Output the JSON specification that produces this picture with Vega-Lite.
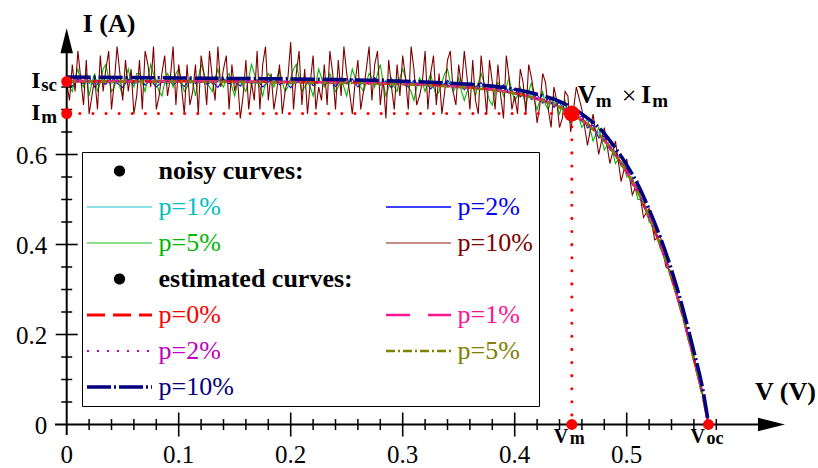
{
"$schema": "https://vega.github.io/schema/vega-lite/v6.json",
"width": 818, "height": 468, "autosize": {"type": "none"}, "padding": 0,
"config": {"view": {"stroke": null}, "font": "Liberation Serif, Times New Roman, DejaVu Serif, serif"},
"datasets": {
"noisy": [
{"v":0,"n1":0.766,"n2":0.760},{"v":0.005,"n1":0.759,"n2":0.752},{"v":0.01,"n1":0.769,"n2":0.768},{"v":0.015,"n1":0.761,"n2":0.757},
{"v":0.02,"n1":0.757,"n2":0.771},{"v":0.025,"n1":0.768,"n2":0.750},{"v":0.03,"n1":0.762,"n2":0.763},{"v":0.035,"n1":0.770,"n2":0.756},
{"v":0.04,"n1":0.758,"n2":0.770},{"v":0.045,"n1":0.765,"n2":0.758},{"v":0.05,"n1":0.760,"n2":0.749},{"v":0.055,"n1":0.768,"n2":0.766},
{"v":0.06,"n1":0.756,"n2":0.759},{"v":0.065,"n1":0.763,"n2":0.772},{"v":0.07,"n1":0.769,"n2":0.754},{"v":0.075,"n1":0.759,"n2":0.765},
{"v":0.08,"n1":0.766,"n2":0.750},{"v":0.085,"n1":0.761,"n2":0.761},{"v":0.09,"n1":0.757,"n2":0.769},{"v":0.095,"n1":0.767,"n2":0.755},
{"v":0.1,"n1":0.762,"n2":0.764},{"v":0.105,"n1":0.770,"n2":0.751},{"v":0.11,"n1":0.758,"n2":0.767},{"v":0.115,"n1":0.764,"n2":0.758},
{"v":0.12,"n1":0.760,"n2":0.773},{"v":0.125,"n1":0.768,"n2":0.756},{"v":0.13,"n1":0.757,"n2":0.762},{"v":0.135,"n1":0.765,"n2":0.749},
{"v":0.14,"n1":0.761,"n2":0.768},{"v":0.145,"n1":0.769,"n2":0.757},{"v":0.15,"n1":0.758,"n2":0.764},{"v":0.155,"n1":0.763,"n2":0.752},
{"v":0.16,"n1":0.767,"n2":0.770},{"v":0.165,"n1":0.756,"n2":0.759},{"v":0.17,"n1":0.764,"n2":0.766},{"v":0.175,"n1":0.760,"n2":0.750},
{"v":0.18,"n1":0.768,"n2":0.761},{"v":0.185,"n1":0.759,"n2":0.771},{"v":0.19,"n1":0.766,"n2":0.755},{"v":0.195,"n1":0.761,"n2":0.763},
{"v":0.2,"n1":0.757,"n2":0.748},{"v":0.205,"n1":0.767,"n2":0.767},{"v":0.21,"n1":0.762,"n2":0.758},{"v":0.215,"n1":0.769,"n2":0.770},
{"v":0.22,"n1":0.758,"n2":0.753},{"v":0.225,"n1":0.764,"n2":0.762},{"v":0.23,"n1":0.760,"n2":0.756},{"v":0.235,"n1":0.766,"n2":0.769},
{"v":0.24,"n1":0.756,"n2":0.751},{"v":0.245,"n1":0.763,"n2":0.764},{"v":0.25,"n1":0.768,"n2":0.757},{"v":0.255,"n1":0.759,"n2":0.768},
{"v":0.26,"n1":0.765,"n2":0.750},{"v":0.265,"n1":0.757,"n2":0.763},{"v":0.27,"n1":0.763,"n2":0.756},{"v":0.275,"n1":0.767,"n2":0.771},
{"v":0.28,"n1":0.758,"n2":0.754},{"v":0.285,"n1":0.764,"n2":0.762},{"v":0.29,"n1":0.756,"n2":0.748},{"v":0.295,"n1":0.762,"n2":0.766},
{"v":0.3,"n1":0.755,"n2":0.757},{"v":0.305,"n1":0.762,"n2":0.750},{"v":0.31,"n1":0.758,"n2":0.764},{"v":0.315,"n1":0.753,"n2":0.753},
{"v":0.32,"n1":0.760,"n2":0.761},{"v":0.325,"n1":0.755,"n2":0.746},{"v":0.33,"n1":0.761,"n2":0.759},{"v":0.335,"n1":0.752,"n2":0.752},
{"v":0.34,"n1":0.758,"n2":0.765},{"v":0.345,"n1":0.754,"n2":0.748},{"v":0.35,"n1":0.748,"n2":0.756},{"v":0.355,"n1":0.755,"n2":0.744},
{"v":0.36,"n1":0.750,"n2":0.757},{"v":0.365,"n1":0.746,"n2":0.750},{"v":0.37,"n1":0.752,"n2":0.760},{"v":0.375,"n1":0.744,"n2":0.742},
{"v":0.38,"n1":0.750,"n2":0.752},{"v":0.385,"n1":0.745,"n2":0.745},{"v":0.39,"n1":0.740,"n2":0.755},{"v":0.395,"n1":0.746,"n2":0.738},
{"v":0.4,"n1":0.735,"n2":0.746},{"v":0.405,"n1":0.739,"n2":0.728},{"v":0.41,"n1":0.729,"n2":0.740},{"v":0.415,"n1":0.733,"n2":0.722},
{"v":0.42,"n1":0.721,"n2":0.733},{"v":0.425,"n1":0.725,"n2":0.714},{"v":0.43,"n1":0.713,"n2":0.726},{"v":0.435,"n1":0.716,"n2":0.705},
{"v":0.44,"n1":0.703,"n2":0.716},{"v":0.445,"n1":0.705,"n2":0.694},{"v":0.45,"n1":0.692,"n2":0.703},{"v":0.455,"n1":0.689,"n2":0.678},
{"v":0.46,"n1":0.672,"n2":0.686},{"v":0.465,"n1":0.670,"n2":0.659},{"v":0.47,"n1":0.653,"n2":0.665},{"v":0.475,"n1":0.648,"n2":0.637},
{"v":0.48,"n1":0.629,"n2":0.641},{"v":0.485,"n1":0.620,"n2":0.610},{"v":0.49,"n1":0.596,"n2":0.607},{"v":0.495,"n1":0.584,"n2":0.575},
{"v":0.5,"n1":0.558,"n2":0.569},{"v":0.505,"n1":0.543,"n2":0.533},{"v":0.51,"n1":0.514,"n2":0.523},{"v":0.515,"n1":0.493,"n2":0.484},
{"v":0.52,"n1":0.458,"n2":0.467},{"v":0.525,"n1":0.433,"n2":0.425},{"v":0.53,"n1":0.397,"n2":0.405},{"v":0.535,"n1":0.366,"n2":0.359},
{"v":0.54,"n1":0.325,"n2":0.331},{"v":0.545,"n1":0.288,"n2":0.282},{"v":0.55,"n1":0.241,"n2":0.246},{"v":0.555,"n1":0.196,"n2":0.192},
{"v":0.56,"n1":0.145,"n2":0.148},{"v":0.565,"n1":0.099,"n2":0.097},{"v":0.57,"n1":0.040,"n2":0.040},{"v":0.573,"n1":0,"n2":0}
],
"dense": [
{"v":0,"n5":0.77,"n10":0.76},{"v":0.0025,"n5":0.75,"n10":0.72},
{"v":0.005,"n5":0.74,"n10":0.80},{"v":0.0075,"n5":0.77,"n10":0.74},
{"v":0.01,"n5":0.79,"n10":0.83},{"v":0.0125,"n5":0.76,"n10":0.77},
{"v":0.015,"n5":0.75,"n10":0.71},{"v":0.0175,"n5":0.78,"n10":0.81},
{"v":0.02,"n5":0.73,"n10":0.69},{"v":0.0225,"n5":0.76,"n10":0.73},
{"v":0.025,"n5":0.78,"n10":0.77},{"v":0.0275,"n5":0.74,"n10":0.70},
{"v":0.03,"n5":0.76,"n10":0.82},{"v":0.0325,"n5":0.79,"n10":0.74},
{"v":0.035,"n5":0.80,"n10":0.79},{"v":0.0375,"n5":0.77,"n10":0.83},
{"v":0.04,"n5":0.74,"n10":0.70},{"v":0.0425,"n5":0.75,"n10":0.76},
{"v":0.045,"n5":0.77,"n10":0.84},{"v":0.0475,"n5":0.75,"n10":0.78},
{"v":0.05,"n5":0.73,"n10":0.72},{"v":0.0525,"n5":0.77,"n10":0.81},
{"v":0.055,"n5":0.79,"n10":0.74},{"v":0.0575,"n5":0.76,"n10":0.79},
{"v":0.06,"n5":0.75,"n10":0.69},{"v":0.0625,"n5":0.78,"n10":0.73},
{"v":0.065,"n5":0.78,"n10":0.81},{"v":0.0675,"n5":0.76,"n10":0.70},
{"v":0.07,"n5":0.74,"n10":0.83},{"v":0.0725,"n5":0.77,"n10":0.80},
{"v":0.075,"n5":0.80,"n10":0.75},{"v":0.0775,"n5":0.78,"n10":0.84},
{"v":0.08,"n5":0.76,"n10":0.70},{"v":0.0825,"n5":0.74,"n10":0.73},
{"v":0.085,"n5":0.73,"n10":0.78},{"v":0.0875,"n5":0.76,"n10":0.82},
{"v":0.09,"n5":0.78,"n10":0.73},{"v":0.0925,"n5":0.77,"n10":0.77},
{"v":0.095,"n5":0.75,"n10":0.84},{"v":0.0975,"n5":0.78,"n10":0.71},
{"v":0.1,"n5":0.79,"n10":0.80},{"v":0.1025,"n5":0.76,"n10":0.75},
{"v":0.105,"n5":0.74,"n10":0.69},{"v":0.1075,"n5":0.75,"n10":0.80},
{"v":0.11,"n5":0.77,"n10":0.71},{"v":0.1125,"n5":0.76,"n10":0.74},
{"v":0.115,"n5":0.73,"n10":0.80},{"v":0.1175,"n5":0.77,"n10":0.69},
{"v":0.12,"n5":0.80,"n10":0.82},{"v":0.1225,"n5":0.78,"n10":0.78},
{"v":0.125,"n5":0.76,"n10":0.71},{"v":0.1275,"n5":0.75,"n10":0.83},
{"v":0.13,"n5":0.74,"n10":0.77},{"v":0.1325,"n5":0.77,"n10":0.72},
{"v":0.135,"n5":0.79,"n10":0.84},{"v":0.1375,"n5":0.76,"n10":0.75},
{"v":0.14,"n5":0.75,"n10":0.79},{"v":0.1425,"n5":0.77,"n10":0.82},
{"v":0.145,"n5":0.78,"n10":0.70},{"v":0.1475,"n5":0.75,"n10":0.80},
{"v":0.15,"n5":0.73,"n10":0.74},{"v":0.1525,"n5":0.76,"n10":0.77},
{"v":0.155,"n5":0.77,"n10":0.68},{"v":0.1575,"n5":0.75,"n10":0.73},
{"v":0.16,"n5":0.74,"n10":0.81},{"v":0.1625,"n5":0.77,"n10":0.70},
{"v":0.165,"n5":0.80,"n10":0.76},{"v":0.1675,"n5":0.78,"n10":0.72},
{"v":0.17,"n5":0.76,"n10":0.83},{"v":0.1725,"n5":0.75,"n10":0.70},
{"v":0.175,"n5":0.73,"n10":0.80},{"v":0.1775,"n5":0.76,"n10":0.84},
{"v":0.18,"n5":0.78,"n10":0.72},{"v":0.1825,"n5":0.77,"n10":0.78},
{"v":0.185,"n5":0.75,"n10":0.70},{"v":0.1875,"n5":0.77,"n10":0.74},
{"v":0.19,"n5":0.79,"n10":0.80},{"v":0.1925,"n5":0.76,"n10":0.69},
{"v":0.195,"n5":0.74,"n10":0.74},{"v":0.1975,"n5":0.75,"n10":0.77},
{"v":0.2,"n5":0.77,"n10":0.85},{"v":0.2025,"n5":0.79,"n10":0.70},
{"v":0.205,"n5":0.80,"n10":0.78},{"v":0.2075,"n5":0.77,"n10":0.83},
{"v":0.21,"n5":0.74,"n10":0.71},{"v":0.2125,"n5":0.75,"n10":0.79},
{"v":0.215,"n5":0.76,"n10":0.69},{"v":0.2175,"n5":0.75,"n10":0.76},
{"v":0.22,"n5":0.73,"n10":0.82},{"v":0.2225,"n5":0.76,"n10":0.70},
{"v":0.225,"n5":0.79,"n10":0.75},{"v":0.2275,"n5":0.77,"n10":0.72},
{"v":0.23,"n5":0.75,"n10":0.80},{"v":0.2325,"n5":0.76,"n10":0.71},
{"v":0.235,"n5":0.78,"n10":0.83},{"v":0.2375,"n5":0.76,"n10":0.78},
{"v":0.24,"n5":0.74,"n10":0.70},{"v":0.2425,"n5":0.75,"n10":0.81},
{"v":0.245,"n5":0.77,"n10":0.73},{"v":0.2475,"n5":0.75,"n10":0.84},
{"v":0.25,"n5":0.73,"n10":0.78},{"v":0.2525,"n5":0.76,"n10":0.74},
{"v":0.255,"n5":0.79,"n10":0.69},{"v":0.2575,"n5":0.77,"n10":0.76},
{"v":0.26,"n5":0.76,"n10":0.81},{"v":0.2625,"n5":0.75,"n10":0.70},
{"v":0.265,"n5":0.74,"n10":0.74},{"v":0.2675,"n5":0.76,"n10":0.79},
{"v":0.27,"n5":0.78,"n10":0.84},{"v":0.2725,"n5":0.77,"n10":0.72},
{"v":0.275,"n5":0.75,"n10":0.80},{"v":0.2775,"n5":0.78,"n10":0.83},
{"v":0.28,"n5":0.80,"n10":0.71},{"v":0.2825,"n5":0.76,"n10":0.77},
{"v":0.285,"n5":0.73,"n10":0.68},{"v":0.2875,"n5":0.75,"n10":0.81},
{"v":0.29,"n5":0.77,"n10":0.75},{"v":0.2925,"n5":0.75,"n10":0.70},
{"v":0.295,"n5":0.74,"n10":0.80},{"v":0.2975,"n5":0.77,"n10":0.73},
{"v":0.3,"n5":0.79,"n10":0.82},{"v":0.3025,"n5":0.77,"n10":0.77},
{"v":0.305,"n5":0.75,"n10":0.70},{"v":0.3075,"n5":0.74,"n10":0.84},
{"v":0.31,"n5":0.72,"n10":0.79},{"v":0.3125,"n5":0.75,"n10":0.71},
{"v":0.315,"n5":0.77,"n10":0.73},{"v":0.3175,"n5":0.76,"n10":0.76},
{"v":0.32,"n5":0.74,"n10":0.83},{"v":0.3225,"n5":0.76,"n10":0.70},
{"v":0.325,"n5":0.78,"n10":0.78},{"v":0.3275,"n5":0.75,"n10":0.82},
{"v":0.33,"n5":0.73,"n10":0.71},{"v":0.3325,"n5":0.74,"n10":0.78},
{"v":0.335,"n5":0.76,"n10":0.69},{"v":0.3375,"n5":0.78,"n10":0.74},
{"v":0.34,"n5":0.79,"n10":0.81},{"v":0.3425,"n5":0.76,"n10":0.83},
{"v":0.345,"n5":0.74,"n10":0.74},{"v":0.3475,"n5":0.75,"n10":0.71},
{"v":0.35,"n5":0.77,"n10":0.80},{"v":0.3525,"n5":0.74,"n10":0.75},
{"v":0.355,"n5":0.72,"n10":0.83},{"v":0.3575,"n5":0.74,"n10":0.77},
{"v":0.36,"n5":0.76,"n10":0.70},{"v":0.3625,"n5":0.75,"n10":0.81},
{"v":0.365,"n5":0.73,"n10":0.72},{"v":0.3675,"n5":0.76,"n10":0.69},
{"v":0.37,"n5":0.78,"n10":0.82},{"v":0.3725,"n5":0.76,"n10":0.76},
{"v":0.375,"n5":0.74,"n10":0.69},{"v":0.3775,"n5":0.72,"n10":0.81},
{"v":0.38,"n5":0.71,"n10":0.76},{"v":0.3825,"n5":0.74,"n10":0.70},
{"v":0.385,"n5":0.76,"n10":0.80},{"v":0.3875,"n5":0.75,"n10":0.73},
{"v":0.39,"n5":0.73,"n10":0.68},{"v":0.3925,"n5":0.75,"n10":0.82},
{"v":0.395,"n5":0.77,"n10":0.77},{"v":0.3975,"n5":0.74,"n10":0.70},
{"v":0.4,"n5":0.72,"n10":0.73},{"v":0.4025,"n5":0.73,"n10":0.69},
{"v":0.405,"n5":0.75,"n10":0.79},{"v":0.4075,"n5":0.73,"n10":0.76},
{"v":0.41,"n5":0.71,"n10":0.69},{"v":0.4125,"n5":0.74,"n10":0.80},
{"v":0.415,"n5":0.76,"n10":0.77},{"v":0.4175,"n5":0.72,"n10":0.73},
{"v":0.42,"n5":0.70,"n10":0.67},{"v":0.4225,"n5":0.72,"n10":0.71},
{"v":0.425,"n5":0.74,"n10":0.78},{"v":0.4275,"n5":0.71,"n10":0.76},
{"v":0.43,"n5":0.70,"n10":0.70},{"v":0.4325,"n5":0.72,"n10":0.66},
{"v":0.435,"n5":0.73,"n10":0.75},{"v":0.4375,"n5":0.71,"n10":0.72},
{"v":0.44,"n5":0.69,"n10":0.66},{"v":0.4425,"n5":0.71,"n10":0.68},
{"v":0.445,"n5":0.72,"n10":0.74},{"v":0.4475,"n5":0.69,"n10":0.73},
{"v":0.45,"n5":0.67,"n10":0.65},{"v":0.455,"n5":0.70,"n10":0.75},
{"v":0.46,"n5":0.66,"n10":0.70},{"v":0.465,"n5":0.68,"n10":0.62},
{"v":0.47,"n5":0.63,"n10":0.69},{"v":0.475,"n5":0.66,"n10":0.60},
{"v":0.48,"n5":0.61,"n10":0.66},{"v":0.485,"n5":0.63,"n10":0.58},
{"v":0.49,"n5":0.58,"n10":0.63},{"v":0.495,"n5":0.60,"n10":0.54},
{"v":0.5,"n5":0.55,"n10":0.59},{"v":0.505,"n5":0.55,"n10":0.51},
{"v":0.51,"n5":0.50,"n10":0.54},{"v":0.515,"n5":0.50,"n10":0.46},
{"v":0.52,"n5":0.45,"n10":0.48},{"v":0.525,"n5":0.44,"n10":0.41},
{"v":0.53,"n5":0.39,"n10":0.42},{"v":0.535,"n5":0.37,"n10":0.35},
{"v":0.54,"n5":0.32,"n10":0.34},{"v":0.545,"n5":0.29,"n10":0.28},
{"v":0.55,"n5":0.24,"n10":0.25},{"v":0.555,"n5":0.20,"n10":0.19},
{"v":0.56,"n5":0.14,"n10":0.15},{"v":0.565,"n5":0.10,"n10":0.10},
{"v":0.57,"n5":0.04,"n10":0.04},{"v":0.573,"n5":0,"n10":0}
],
"est": [
{"v":0,"e0":0.763,"e1":0.764,"e2":0.763,"e5":0.762,"e10":0.772},
{"v":0.05,"e0":0.763,"e1":0.763,"e2":0.763,"e5":0.762,"e10":0.771},
{"v":0.1,"e0":0.763,"e1":0.763,"e2":0.762,"e5":0.762,"e10":0.770},
{"v":0.15,"e0":0.762,"e1":0.762,"e2":0.762,"e5":0.761,"e10":0.769},
{"v":0.2,"e0":0.761,"e1":0.761,"e2":0.761,"e5":0.760,"e10":0.768},
{"v":0.25,"e0":0.760,"e1":0.760,"e2":0.760,"e5":0.759,"e10":0.766},
{"v":0.3,"e0":0.757,"e1":0.757,"e2":0.757,"e5":0.756,"e10":0.763},
{"v":0.33,"e0":0.754,"e1":0.754,"e2":0.754,"e5":0.753,"e10":0.760},
{"v":0.36,"e0":0.749,"e1":0.749,"e2":0.749,"e5":0.748,"e10":0.756},
{"v":0.38,"e0":0.744,"e1":0.744,"e2":0.744,"e5":0.743,"e10":0.752},
{"v":0.4,"e0":0.736,"e1":0.736,"e2":0.736,"e5":0.735,"e10":0.745},
{"v":0.42,"e0":0.724,"e1":0.724,"e2":0.724,"e5":0.723,"e10":0.734},
{"v":0.44,"e0":0.706,"e1":0.706,"e2":0.706,"e5":0.705,"e10":0.718},
{"v":0.451,"e0":0.691,"e1":0.691,"e2":0.691,"e5":0.690,"e10":0.704},
{"v":0.465,"e0":0.667,"e1":0.667,"e2":0.667,"e5":0.666,"e10":0.681},
{"v":0.477,"e0":0.640,"e1":0.640,"e2":0.640,"e5":0.639,"e10":0.655},
{"v":0.49,"e0":0.599,"e1":0.599,"e2":0.599,"e5":0.598,"e10":0.614},
{"v":0.5,"e0":0.561,"e1":0.561,"e2":0.561,"e5":0.560,"e10":0.577},
{"v":0.51,"e0":0.517,"e1":0.517,"e2":0.517,"e5":0.516,"e10":0.533},
{"v":0.52,"e0":0.461,"e1":0.461,"e2":0.461,"e5":0.460,"e10":0.478},
{"v":0.53,"e0":0.399,"e1":0.399,"e2":0.399,"e5":0.398,"e10":0.416},
{"v":0.54,"e0":0.327,"e1":0.327,"e2":0.327,"e5":0.326,"e10":0.344},
{"v":0.55,"e0":0.242,"e1":0.242,"e2":0.242,"e5":0.241,"e10":0.259},
{"v":0.56,"e0":0.145,"e1":0.145,"e2":0.145,"e5":0.144,"e10":0.162},
{"v":0.567,"e0":0.074,"e1":0.074,"e2":0.074,"e5":0.073,"e10":0.090},
{"v":0.573,"e0":0,"e1":0,"e2":0,"e5":0,"e10":0.004}
]
},
"layer": [
{
"data": {"name": "noisy"},
"transform": [{"fold": ["n1","n2"], "as": ["s","i"]}],
"mark": {"type": "line", "strokeWidth": 1.1},
"encoding": {
"x": {"field": "v", "type": "quantitative", "scale": {"domain": [-0.059554, 0.670804], "nice": false, "zero": false}, "axis": null},
"y": {"field": "i", "type": "quantitative", "scale": {"domain": [-0.096667, 0.943333], "nice": false, "zero": false}, "axis": null},
"color": {"field": "s", "type": "nominal",
"scale": {"domain": ["hn","b1","n1","n2","n5","n10","he","b2","e0","e1","e2","e5","e10"],
"range": ["#000000","#ffffff","#00c0c0","#0000ff","#00b800","#800000","#000000","#ffffff","#ff0000","#ff1493","#c000c0","#808000","#000080"]},
"legend": {
"orient": "none", "legendX": 82, "legendY": 152, "title": null, "direction": "horizontal",
"columns": 2, "columnPadding": 28, "rowPadding": 10, "padding": 6,
"strokeColor": "black", "fillColor": "white", "gridAlign": "each",
"symbolType": "M-2.5,0H2.5", "symbolSize": 676, "symbolStrokeWidth": 1.5, "symbolOffset": 18.5,
"labelFont": "Liberation Serif, Times New Roman, DejaVu Serif, serif", "labelFontSize": 26, "labelOffset": 26, "labelLimit": 0,
"labelExpr": "datum.value=='hn' ? 'noisy curves:' : datum.value=='he' ? 'estimated curves:' : indexof(['b1','b2'], datum.value) >= 0 ? '' : 'p=' + slice(datum.value, 1) + '%'",
"encode": {
"symbols": {"update": {
"shape": {"signal": "datum.value=='hn'||datum.value=='he' ? 'M-0.38,0A0.38,0.38,0,1,0,0.38,0A0.38,0.38,0,1,0,-0.38,0Z' : 'M-2.5,0H2.5'"},
"fill": {"signal": "datum.value=='hn'||datum.value=='he' ? 'black' : 'transparent'"},
"strokeDash": {"signal": "scale('strokeDash', datum.value)"},
"strokeOpacity": {"signal": "indexof(['n1','n5','n10'], datum.value) >= 0 ? 0.6 : 1"},
"strokeWidth": {"signal": "datum.value=='e0' ? 3 : datum.value=='e10' ? 3.5 : (datum.value=='e1'||datum.value=='e5') ? 2.5 : datum.value=='e2' ? 2 : 1.3"}
}},
"labels": {"update": {
"fill": {"signal": "scale('color', datum.value)"},
"fontWeight": {"signal": "datum.value=='hn'||datum.value=='he' ? 'bold' : 'normal'"}
}}
}
}},
"strokeDash": {"field": "s", "type": "nominal",
"scale": {"domain": ["hn","b1","n1","n2","n5","n10","he","b2","e0","e1","e2","e5","e10"],
"range": [[1,0],[1,0],[1,0],[1,0],[1,0],[1,0],[1,0],[1,0],[18,8],[24,18],[2,8],[9,3,2,3],[24,3,2,3]]},
"legend": null}
}
},
{
"data": {"name": "dense"},
"transform": [{"fold": ["n5","n10"], "as": ["s","i"]}],
"mark": {"type": "line", "strokeWidth": 1.1},
"encoding": {
"x": {"field": "v", "type": "quantitative", "scale": {"domain": [-0.059554, 0.670804], "nice": false, "zero": false}, "axis": null},
"y": {"field": "i", "type": "quantitative", "scale": {"domain": [-0.096667, 0.943333], "nice": false, "zero": false}, "axis": null},
"color": {"field": "s", "type": "nominal"},
"strokeDash": {"field": "s", "type": "nominal", "legend": null}
}
},
{
"data": {"name": "est"},
"transform": [{"fold": ["e0","e1","e5"], "as": ["s","i"]}],
"mark": {"type": "line", "strokeWidth": 2.5, "interpolate": "monotone"},
"encoding": {
"x": {"field": "v", "type": "quantitative", "scale": {"domain": [-0.059554, 0.670804], "nice": false, "zero": false}, "axis": null},
"y": {"field": "i", "type": "quantitative", "scale": {"domain": [-0.096667, 0.943333], "nice": false, "zero": false}, "axis": null},
"color": {"field": "s", "type": "nominal"},
"strokeDash": {"field": "s", "type": "nominal", "legend": null}
}
},
{
"data": {"name": "est"},
"transform": [{"fold": ["e2"], "as": ["s","i"]}],
"mark": {"type": "line", "strokeWidth": 2, "interpolate": "monotone"},
"encoding": {
"x": {"field": "v", "type": "quantitative", "scale": {"domain": [-0.059554, 0.670804], "nice": false, "zero": false}, "axis": null},
"y": {"field": "i", "type": "quantitative", "scale": {"domain": [-0.096667, 0.943333], "nice": false, "zero": false}, "axis": null},
"color": {"field": "s", "type": "nominal"},
"strokeDash": {"field": "s", "type": "nominal", "legend": null}
}
},
{
"data": {"name": "est"},
"transform": [{"fold": ["e10"], "as": ["s","i"]}],
"mark": {"type": "line", "strokeWidth": 3.5, "interpolate": "monotone"},
"encoding": {
"x": {"field": "v", "type": "quantitative", "scale": {"domain": [-0.059554, 0.670804], "nice": false, "zero": false}, "axis": null},
"y": {"field": "i", "type": "quantitative", "scale": {"domain": [-0.096667, 0.943333], "nice": false, "zero": false}, "axis": null},
"color": {"field": "s", "type": "nominal"},
"strokeDash": {"field": "s", "type": "nominal", "legend": null}
}
},
{
"data": {"values": [{"a": -0.0104, "b": 0.635}]},
"mark": {"type": "rule", "color": "black", "strokeWidth": 2},
"encoding": {
"x": {"field": "a", "type": "quantitative", "scale": {"domain": [-0.059554, 0.670804], "nice": false, "zero": false}, "axis": null},
"x2": {"field": "b"},
"y": {"datum": 0, "type": "quantitative", "scale": {"domain": [-0.096667, 0.943333], "nice": false, "zero": false}, "axis": null}
}
},
{
"data": {"values": [{"a": -0.0233, "b": 0.87}]},
"mark": {"type": "rule", "color": "black", "strokeWidth": 2},
"encoding": {
"x": {"datum": 0, "type": "quantitative", "scale": {"domain": [-0.059554, 0.670804], "nice": false, "zero": false}, "axis": null},
"y": {"field": "a", "type": "quantitative", "scale": {"domain": [-0.096667, 0.943333], "nice": false, "zero": false}, "axis": null},
"y2": {"field": "b"}
}
},
{
"data": {"values": [{"v": 0.6413, "i": 0}]},
"mark": {"type": "point", "shape": "M0,0L-2,-0.5L-2,0.5Z", "size": 729, "filled": true, "color": "black", "opacity": 1, "strokeWidth": 0},
"encoding": {
"x": {"field": "v", "type": "quantitative", "scale": {"domain": [-0.059554, 0.670804], "nice": false, "zero": false}, "axis": null},
"y": {"field": "i", "type": "quantitative", "scale": {"domain": [-0.096667, 0.943333], "nice": false, "zero": false}, "axis": null}
}
},
{
"data": {"values": [{"v": 0, "i": 0.8804}]},
"mark": {"type": "point", "shape": "M0,0L-0.5,2L0.5,2Z", "size": 625, "filled": true, "color": "black", "opacity": 1, "strokeWidth": 0},
"encoding": {
"x": {"field": "v", "type": "quantitative", "scale": {"domain": [-0.059554, 0.670804], "nice": false, "zero": false}, "axis": null},
"y": {"field": "i", "type": "quantitative", "scale": {"domain": [-0.096667, 0.943333], "nice": false, "zero": false}, "axis": null}
}
},
{
"data": {"values": [{"v":0.1},{"v":0.2},{"v":0.3},{"v":0.4},{"v":0.5}]},
"mark": {"type": "tick", "orient": "vertical", "size": 24, "thickness": 1.6, "color": "black", "opacity": 1},
"encoding": {
"x": {"field": "v", "type": "quantitative", "scale": {"domain": [-0.059554, 0.670804], "nice": false, "zero": false}, "axis": null},
"y": {"datum": 0, "type": "quantitative", "scale": {"domain": [-0.096667, 0.943333], "nice": false, "zero": false}, "axis": null}
}
},
{
"data": {"values": [{"v":0.02},{"v":0.04},{"v":0.06},{"v":0.08},{"v":0.12},{"v":0.14},{"v":0.16},{"v":0.18},{"v":0.22},{"v":0.24},{"v":0.26},{"v":0.28},{"v":0.32},{"v":0.34},{"v":0.36},{"v":0.38},{"v":0.42},{"v":0.44},{"v":0.46},{"v":0.48},{"v":0.52},{"v":0.54},{"v":0.56},{"v":0.58}]},
"mark": {"type": "tick", "orient": "vertical", "size": 11, "thickness": 1.5, "color": "black", "opacity": 1},
"encoding": {
"x": {"field": "v", "type": "quantitative", "scale": {"domain": [-0.059554, 0.670804], "nice": false, "zero": false}, "axis": null},
"y": {"datum": 0, "type": "quantitative", "scale": {"domain": [-0.096667, 0.943333], "nice": false, "zero": false}, "axis": null}
}
},
{
"data": {"values": [{"i":0.2},{"i":0.4},{"i":0.6}]},
"mark": {"type": "tick", "orient": "horizontal", "size": 22, "thickness": 1.6, "color": "black", "opacity": 1},
"encoding": {
"x": {"datum": 0, "type": "quantitative", "scale": {"domain": [-0.059554, 0.670804], "nice": false, "zero": false}, "axis": null},
"y": {"field": "i", "type": "quantitative", "scale": {"domain": [-0.096667, 0.943333], "nice": false, "zero": false}, "axis": null}
}
},
{
"data": {"values": [{"i":0.05},{"i":0.1},{"i":0.15},{"i":0.25},{"i":0.3},{"i":0.35},{"i":0.45},{"i":0.5},{"i":0.55},{"i":0.65},{"i":0.7},{"i":0.75}]},
"mark": {"type": "tick", "orient": "horizontal", "size": 11, "thickness": 1.5, "color": "black", "opacity": 1},
"encoding": {
"x": {"datum": 0, "type": "quantitative", "scale": {"domain": [-0.059554, 0.670804], "nice": false, "zero": false}, "axis": null},
"y": {"field": "i", "type": "quantitative", "scale": {"domain": [-0.096667, 0.943333], "nice": false, "zero": false}, "axis": null}
}
},
{
"data": {"values": [{"v1":0,"v2":0.451,"i1":0.691,"i2":0.691},{"v1":0.451,"v2":0.451,"i1":0.691,"i2":0}]},
"mark": {"type": "rule", "color": "#ff0000", "strokeWidth": 3, "strokeDash": [0.1, 13], "strokeCap": "round"},
"encoding": {
"x": {"field": "v1", "type": "quantitative", "scale": {"domain": [-0.059554, 0.670804], "nice": false, "zero": false}, "axis": null},
"x2": {"field": "v2"},
"y": {"field": "i1", "type": "quantitative", "scale": {"domain": [-0.096667, 0.943333], "nice": false, "zero": false}, "axis": null},
"y2": {"field": "i2"}
}
},
{
"data": {"values": [{"v":0,"i":0.762},{"v":0,"i":0.691},{"v":0.451,"i":0},{"v":0.573,"i":0}]},
"mark": {"type": "circle", "size": 120, "color": "#ff0000", "opacity": 1},
"encoding": {
"x": {"field": "v", "type": "quantitative", "scale": {"domain": [-0.059554, 0.670804], "nice": false, "zero": false}, "axis": null},
"y": {"field": "i", "type": "quantitative", "scale": {"domain": [-0.096667, 0.943333], "nice": false, "zero": false}, "axis": null}
}
},
{
"data": {"values": [{"v":0.451,"i":0.691}]},
"mark": {"type": "circle", "size": 250, "color": "#ff0000", "opacity": 1},
"encoding": {
"x": {"field": "v", "type": "quantitative", "scale": {"domain": [-0.059554, 0.670804], "nice": false, "zero": false}, "axis": null},
"y": {"field": "i", "type": "quantitative", "scale": {"domain": [-0.096667, 0.943333], "nice": false, "zero": false}, "axis": null}
}
},
{
"data": {"values": [{"v":0,"t":"0"},{"v":0.1,"t":"0.1"},{"v":0.2,"t":"0.2"},{"v":0.3,"t":"0.3"},{"v":0.4,"t":"0.4"},{"v":0.5,"t":"0.5"}]},
"mark": {"type": "text", "fontSize": 25, "align": "center", "baseline": "alphabetic", "dy": 39, "color": "black"},
"encoding": {
"x": {"field": "v", "type": "quantitative", "scale": {"domain": [-0.059554, 0.670804], "nice": false, "zero": false}, "axis": null},
"y": {"datum": 0, "type": "quantitative", "scale": {"domain": [-0.096667, 0.943333], "nice": false, "zero": false}, "axis": null},
"text": {"field": "t"}
}
},
{
"data": {"values": [{"i":0,"t":"0"},{"i":0.2,"t":"0.2"},{"i":0.4,"t":"0.4"},{"i":0.6,"t":"0.6"}]},
"mark": {"type": "text", "fontSize": 25, "align": "right", "baseline": "middle", "dx": -19.5, "dy": 2, "color": "black"},
"encoding": {
"x": {"datum": 0, "type": "quantitative", "scale": {"domain": [-0.059554, 0.670804], "nice": false, "zero": false}, "axis": null},
"y": {"field": "i", "type": "quantitative", "scale": {"domain": [-0.096667, 0.943333], "nice": false, "zero": false}, "axis": null},
"text": {"field": "t"}
}
},
{
"data": {"values": [{"v":0,"i":0.762,"t":"I"},{"v":0,"i":0.691,"t":"I"}]},
"mark": {"type": "text", "fontSize": 24, "fontWeight": "bold", "align": "right", "baseline": "alphabetic", "dx": -26, "dy": 6.5, "color": "black"},
"encoding": {
"x": {"field": "v", "type": "quantitative", "scale": {"domain": [-0.059554, 0.670804], "nice": false, "zero": false}, "axis": null},
"y": {"field": "i", "type": "quantitative", "scale": {"domain": [-0.096667, 0.943333], "nice": false, "zero": false}, "axis": null},
"text": {"field": "t"}
}
},
{
"data": {"values": [{"v":0,"i":0.762,"t":"sc"},{"v":0,"i":0.691,"t":"m"}]},
"mark": {"type": "text", "fontSize": 19, "fontWeight": "bold", "align": "left", "baseline": "alphabetic", "dx": -25.5, "dy": 9, "color": "black"},
"encoding": {
"x": {"field": "v", "type": "quantitative", "scale": {"domain": [-0.059554, 0.670804], "nice": false, "zero": false}, "axis": null},
"y": {"field": "i", "type": "quantitative", "scale": {"domain": [-0.096667, 0.943333], "nice": false, "zero": false}, "axis": null},
"text": {"field": "t"}
}
},
{
"data": {"values": [{"v":0.451,"i":0,"t":"V"},{"v":0.573,"i":0,"t":"V"}]},
"mark": {"type": "text", "fontSize": 20, "fontWeight": "bold", "align": "left", "baseline": "alphabetic", "dx": -18, "dy": 18.5, "color": "black"},
"encoding": {
"x": {"field": "v", "type": "quantitative", "scale": {"domain": [-0.059554, 0.670804], "nice": false, "zero": false}, "axis": null},
"y": {"field": "i", "type": "quantitative", "scale": {"domain": [-0.096667, 0.943333], "nice": false, "zero": false}, "axis": null},
"text": {"field": "t"}
}
},
{
"data": {"values": [{"v":0.451,"i":0,"t":"m"},{"v":0.573,"i":0,"t":"oc"}]},
"mark": {"type": "text", "fontSize": 18, "fontWeight": "bold", "align": "left", "baseline": "alphabetic", "dx": -2, "dy": 20, "color": "black"},
"encoding": {
"x": {"field": "v", "type": "quantitative", "scale": {"domain": [-0.059554, 0.670804], "nice": false, "zero": false}, "axis": null},
"y": {"field": "i", "type": "quantitative", "scale": {"domain": [-0.096667, 0.943333], "nice": false, "zero": false}, "axis": null},
"text": {"field": "t"}
}
},
{
"data": {"values": [{"v":0.451,"i":0.691,"t":"V"}]},
"mark": {"type": "text", "fontSize": 25, "fontWeight": "bold", "align": "left", "baseline": "alphabetic", "dx": 6, "dy": -10.5, "color": "black"},
"encoding": {
"x": {"field": "v", "type": "quantitative", "scale": {"domain": [-0.059554, 0.670804], "nice": false, "zero": false}, "axis": null},
"y": {"field": "i", "type": "quantitative", "scale": {"domain": [-0.096667, 0.943333], "nice": false, "zero": false}, "axis": null},
"text": {"field": "t"}
}
},
{
"data": {"values": [{"v":0.451,"i":0.691,"t":"m"}]},
"mark": {"type": "text", "fontSize": 19, "fontWeight": "bold", "align": "left", "baseline": "alphabetic", "dx": 24, "dy": -7, "color": "black"},
"encoding": {
"x": {"field": "v", "type": "quantitative", "scale": {"domain": [-0.059554, 0.670804], "nice": false, "zero": false}, "axis": null},
"y": {"field": "i", "type": "quantitative", "scale": {"domain": [-0.096667, 0.943333], "nice": false, "zero": false}, "axis": null},
"text": {"field": "t"}
}
},
{
"data": {"values": [{"v":0.451,"i":0.691,"t":"×"}]},
"mark": {"type": "text", "fontSize": 26, "align": "left", "baseline": "alphabetic", "dx": 50, "dy": -10, "color": "black"},
"encoding": {
"x": {"field": "v", "type": "quantitative", "scale": {"domain": [-0.059554, 0.670804], "nice": false, "zero": false}, "axis": null},
"y": {"field": "i", "type": "quantitative", "scale": {"domain": [-0.096667, 0.943333], "nice": false, "zero": false}, "axis": null},
"text": {"field": "t"}
}
},
{
"data": {"values": [{"v":0.451,"i":0.691,"t":"I"}]},
"mark": {"type": "text", "fontSize": 25, "fontWeight": "bold", "align": "left", "baseline": "alphabetic", "dx": 69.5, "dy": -10.5, "color": "black"},
"encoding": {
"x": {"field": "v", "type": "quantitative", "scale": {"domain": [-0.059554, 0.670804], "nice": false, "zero": false}, "axis": null},
"y": {"field": "i", "type": "quantitative", "scale": {"domain": [-0.096667, 0.943333], "nice": false, "zero": false}, "axis": null},
"text": {"field": "t"}
}
},
{
"data": {"values": [{"v":0.451,"i":0.691,"t":"m"}]},
"mark": {"type": "text", "fontSize": 19, "fontWeight": "bold", "align": "left", "baseline": "alphabetic", "dx": 80.5, "dy": -7, "color": "black"},
"encoding": {
"x": {"field": "v", "type": "quantitative", "scale": {"domain": [-0.059554, 0.670804], "nice": false, "zero": false}, "axis": null},
"y": {"field": "i", "type": "quantitative", "scale": {"domain": [-0.096667, 0.943333], "nice": false, "zero": false}, "axis": null},
"text": {"field": "t"}
}
},
{
"data": {"values": [{"v":0,"i":0.8804,"t":"I (A)"}]},
"mark": {"type": "text", "fontSize": 26, "fontWeight": "bold", "align": "left", "baseline": "alphabetic", "dx": 16, "dy": 4, "color": "black"},
"encoding": {
"x": {"field": "v", "type": "quantitative", "scale": {"domain": [-0.059554, 0.670804], "nice": false, "zero": false}, "axis": null},
"y": {"field": "i", "type": "quantitative", "scale": {"domain": [-0.096667, 0.943333], "nice": false, "zero": false}, "axis": null},
"text": {"field": "t"}
}
},
{
"data": {"values": [{"v":0.6413,"i":0,"t":"V (V)"}]},
"mark": {"type": "text", "fontSize": 26, "fontWeight": "bold", "align": "left", "baseline": "alphabetic", "dx": -30, "dy": -24.5, "color": "black"},
"encoding": {
"x": {"field": "v", "type": "quantitative", "scale": {"domain": [-0.059554, 0.670804], "nice": false, "zero": false}, "axis": null},
"y": {"field": "i", "type": "quantitative", "scale": {"domain": [-0.096667, 0.943333], "nice": false, "zero": false}, "axis": null},
"text": {"field": "t"}
}
}
]
}
